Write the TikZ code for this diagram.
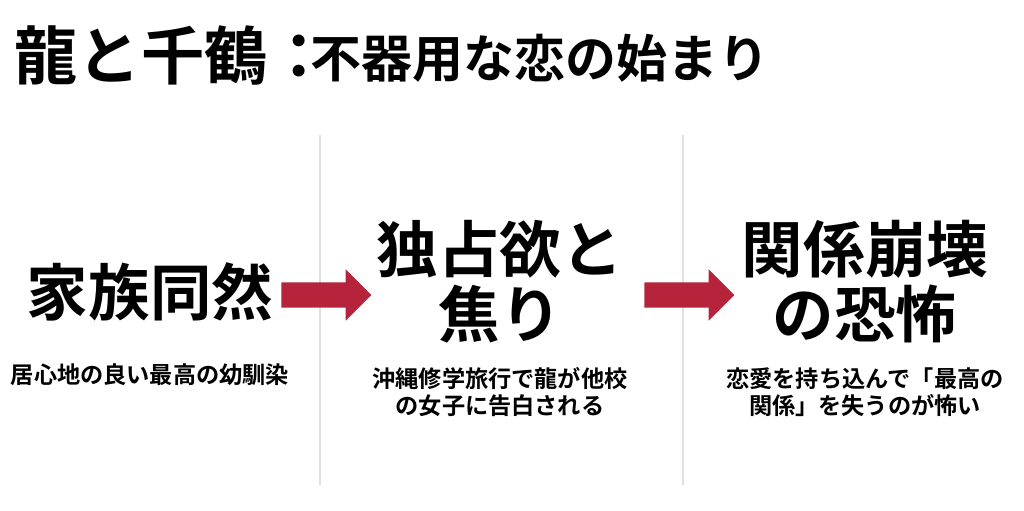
\documentclass[tikz,border=0pt]{standalone}
\usepackage{fontspec}
\newfontfamily\cjk{Noto Sans CJK JP}[BoldFont={Noto Sans CJK JP Bold}]
\usetikzlibrary{shapes.arrows}
\definecolor{crimson}{HTML}{B5243A}
\begin{document}
\begin{tikzpicture}[x=1cm,y=-1cm,
  every node/.style={font=\cjk\bfseries, inner sep=0pt},
  head/.style={font=\cjk\bfseries\fontsize{17.5}{18.5}\selectfont, align=center},
  sub/.style={font=\cjk\bfseries\fontsize{6.6}{7.7}\selectfont, align=center},
  divider/.style={draw=black!12, line width=0.6pt},
  bigarrow/.style={single arrow, fill=crimson, text height=0.24cm, text depth=0pt, text width=0pt, minimum width=0.5cm, single arrow head extend=0.13cm, minimum height=0.9cm, inner sep=0pt}]
\useasboundingbox (0,0) rectangle (10.24,5.11);
% title
\node[anchor=west, font=\cjk\bfseries\fontsize{18}{20}\selectfont] (t1) at (0.14,0.56) {龍と千鶴：};
\node[anchor=west, font=\cjk\bfseries\fontsize{14.5}{17}\selectfont] (t2) at (3.1,0.58) {不器用な恋の始まり};
% dividers
\coordinate (d1a) at (3.2,1.35); \coordinate (d1b) at (3.2,4.85);
\coordinate (d2a) at (6.83,1.35); \coordinate (d2b) at (6.83,4.85);
\draw[divider] (d1a) -- (d1b);
\draw[divider] (d2a) -- (d2b);
% columns
\node[head] (h1) at (1.5,2.92) {家族同然};
\node[sub] (s1) at (1.5,3.75) {居心地の良い最高の幼馴染};
\node[head] (h2) at (5.0,2.82) {独占欲と\\焦り};
\node[sub] (s2) at (5.0,3.92) {沖縄修学旅行で龍が他校\\の女子に告白される};
\node[head] (h3) at (8.65,2.82) {関係崩壊\\の恐怖};
\node[sub] (s3) at (8.65,3.92) {恋愛を持ち込んで「最高の\\関係」を失うのが怖い};
% arrows
\node[bigarrow] (a1) at (3.2,2.95) {};
\node[bigarrow] (a2) at (6.83,2.95) {};
\end{tikzpicture}
\end{document}
